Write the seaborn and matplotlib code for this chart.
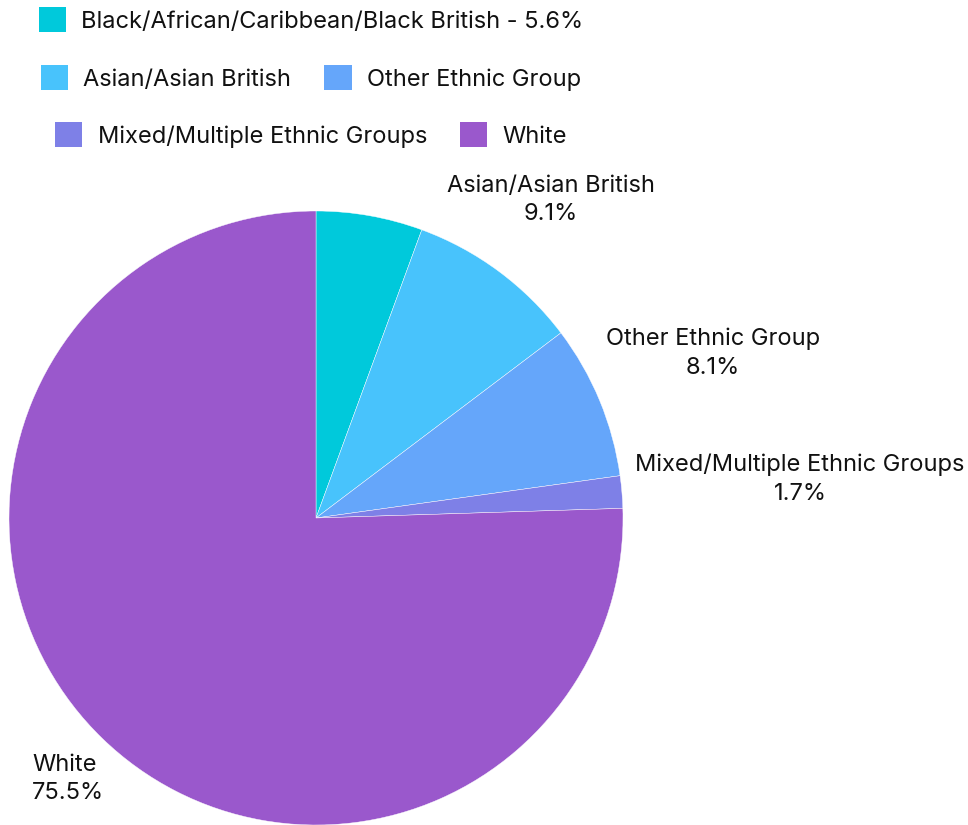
import matplotlib
matplotlib.use("Agg")
import matplotlib.pyplot as plt
from matplotlib.patches import Rectangle
import seaborn as sns

categories = ["Black/African/Caribbean/Black British", "Asian/Asian British",
              "Other Ethnic Group", "Mixed/Multiple Ethnic Groups", "White"]
values = [5.6, 9.1, 8.1, 1.7, 75.5]
legend_labels = ["Black/African/Caribbean/Black British - 5.6%", "Asian/Asian British",
                 "Other Ethnic Group", "Mixed/Multiple Ethnic Groups", "White"]
colors = ["#00C9DB", "#48C3FC", "#65A6FA", "#7E80E7", "#9A58CC"]

sns.set_theme(style="white")
plt.rcParams['font.family'] = ['Inter', 'DejaVu Sans']
palette = sns.color_palette(colors)

W, H = 968, 825
fig = plt.figure(figsize=(W / 100, H / 100), dpi=100)
ax = fig.add_axes([0, 0, 1, 1])

cx, cy, r = 316, 825 - 518, 307
ax.pie(values, colors=palette, startangle=90, counterclock=False,
       center=(cx, cy), radius=r, frame=True,
       wedgeprops=dict(linewidth=0.3, edgecolor='white'))
ax.set_xlim(0, W)
ax.set_ylim(0, H)
ax.set_aspect('equal')
ax.axis('off')

fs = 17
lab = dict(fontsize=fs, color='#111111', linespacing=1.4)
ax.text(551, 825 - 200, f"{categories[1]}\n{values[1]}%", ha='center', va='center', **lab)
ax.text(713, 825 - 353, f"{categories[2]}\n{values[2]}%", ha='center', va='center', **lab)
ax.text(800, 825 - 479, f"{categories[3]}\n{values[3]}%", ha='center', va='center', **lab)
ax.text(32, 825 - 779, f"{categories[4]}\n{values[4]}%", ha='left', va='center', **lab)

handles = [Rectangle((0, 0), 1, 1, facecolor=c, edgecolor='none') for c in palette]
rows = [([0], 20), ([1, 2], 78), ([3, 4], 135)]
for idx, ypix in rows:
    leg = fig.legend([handles[i] for i in idx], [legend_labels[i] for i in idx],
                     loc='center', bbox_to_anchor=(311 / W, 1 - ypix / H),
                     ncol=len(idx), frameon=False, fontsize=fs,
                     handlelength=1.15, handleheight=1.25, handletextpad=0.65,
                     columnspacing=1.4, borderpad=0, borderaxespad=0)
    for t in leg.get_texts():
        t.set_color('#111111')

fig.savefig("out.png", dpi=100, facecolor='white')
